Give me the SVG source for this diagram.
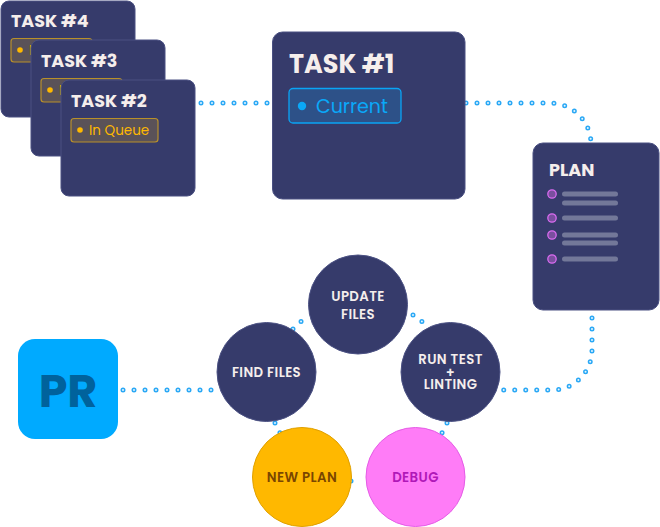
<svg xmlns="http://www.w3.org/2000/svg" width="660" height="527" viewBox="0 0 660 527">
<style>
.card{fill:#363b6b;stroke:#4a5082;stroke-width:1}
.title{font-family:Poppins,Inter,'Liberation Sans',sans-serif;font-weight:700;fill:#f5eeec}
.qbadge{fill:#5a5258;stroke:#b8902a;stroke-width:1.2}
.qtext{font-family:Poppins,Inter,'Liberation Sans',sans-serif;font-size:13.5px;fill:#ffb800}
.navy{fill:#363b6b;stroke:#4c5284;stroke-width:1}
.ctext{font-family:Poppins,Inter,'Liberation Sans',sans-serif;font-weight:600;font-size:13.3px;fill:#f5eeec;text-anchor:middle;letter-spacing:0.4px}
.dotA{fill:none;stroke:#2aa8f5;stroke-width:5;stroke-linecap:round;stroke-dasharray:0 11}
.dotB{fill:none;stroke:#e6f6ff;stroke-width:2;stroke-linecap:round;stroke-dasharray:0 11}
.bullet{fill:#7a4f9f;stroke:#d96bf0;stroke-width:1.3}
.line{fill:#737899}
</style>
<g id="connectors">
  <g id="c-task2-task1"><path class="dotA" d="M201,103 H272"/><path class="dotB" d="M201,103 H272"/></g>
  <g id="c-task1-plan"><path class="dotA" d="M466,103 H550 A41,41 0 0 1 591,144"/><path class="dotB" d="M466,103 H550 A41,41 0 0 1 591,144"/></g>
  <g id="c-plan-run"><path class="dotA" d="M592,318 V350 A40,40 0 0 1 552,390 H496"/><path class="dotB" d="M592,318 V350 A40,40 0 0 1 552,390 H496"/></g>
  <g id="c-update-run"><path class="dotA" d="M413,315 L424,323"/><path class="dotB" d="M413,315 L424,323"/></g>
  <g id="c-find-update"><path class="dotA" d="M293,329 L308,315"/><path class="dotB" d="M293,329 L308,315"/></g>
  <g id="c-pr-find"><path class="dotA" d="M123,390 H215"/><path class="dotB" d="M123,390 H215"/></g>
  <g id="c-find-newplan"><path class="dotA" d="M275,423 L280,433"/><path class="dotB" d="M275,423 L280,433"/></g>
  <g id="c-run-debug"><path class="dotA" d="M447,423 L442,433"/><path class="dotB" d="M447,423 L442,433"/></g>
  <g id="c-newplan-debug"><path class="dotA" d="M351,481 H362"/><path class="dotB" d="M351,481 H362"/></g>
</g>
<g id="task4">
  <rect class="card" x="1" y="1" width="134" height="116" rx="8"/>
  <text class="title" x="11" y="27" font-size="17.5">TASK #4</text>
  <rect class="qbadge" x="11" y="38.5" width="81" height="23.5" rx="3"/>
  <circle cx="20" cy="50" r="2.8" fill="#ffb800"/>
  <text class="qtext" x="29" y="55">In</text>
</g>
<g id="task3">
  <rect class="card" x="31" y="40" width="134" height="116" rx="8"/>
  <text class="title" x="41" y="67" font-size="17.5">TASK #3</text>
  <rect class="qbadge" x="41" y="78.5" width="81" height="23.5" rx="3"/>
  <circle cx="50" cy="90" r="2.8" fill="#ffb800"/>
  <text class="qtext" x="59" y="95">In</text>
</g>
<g id="task2">
  <rect class="card" x="61" y="80" width="134" height="116" rx="8"/>
  <text class="title" x="71" y="107" font-size="17.5">TASK #2</text>
  <rect class="qbadge" x="71" y="118.5" width="87" height="23.5" rx="3"/>
  <circle cx="80" cy="130" r="2.8" fill="#ffb800"/>
  <text class="qtext" x="89" y="135">In Queue</text>
</g>
<g id="task1">
  <rect class="card" x="272.5" y="32" width="192.5" height="167" rx="10"/>
  <text class="title" x="289" y="73" font-size="25.5">TASK #1</text>
  <rect x="289" y="88.5" width="112" height="34.5" rx="4" fill="#2d5188" stroke="#0aa4f5" stroke-width="1.3"/>
  <circle cx="302" cy="106" r="4.2" fill="#0aa8f8"/>
  <text x="316" y="113" font-family="Poppins,Inter,'Liberation Sans',sans-serif" font-size="19" fill="#0aa8f8">Current</text>
</g>
<g id="plan">
  <rect class="card" x="533" y="143" width="126" height="167" rx="10"/>
  <text class="title" x="549" y="176" font-size="17.5">PLAN</text>
  <circle class="bullet" cx="552" cy="194" r="4.2"/>
  <rect class="line" x="562" y="191.5" width="56" height="5" rx="2.5"/>
  <rect class="line" x="562" y="200.5" width="56" height="5" rx="2.5"/>
  <circle class="bullet" cx="552" cy="218" r="4.2"/>
  <rect class="line" x="562" y="215.5" width="56" height="5" rx="2.5"/>
  <circle class="bullet" cx="552" cy="235" r="4.2"/>
  <rect class="line" x="562" y="232.5" width="56" height="5" rx="2.5"/>
  <rect class="line" x="562" y="240.5" width="56" height="5" rx="2.5"/>
  <circle class="bullet" cx="552" cy="259" r="4.2"/>
  <rect class="line" x="562" y="256.5" width="56" height="5" rx="2.5"/>
</g>
<g id="update-files">
  <circle class="navy" cx="358" cy="304.5" r="49.5"/>
  <text class="ctext"><tspan x="358" y="301">UPDATE</tspan><tspan x="358" y="319">FILES</tspan></text>
</g>
<g id="find-files">
  <circle class="navy" cx="266.5" cy="372" r="49.5"/>
  <text class="ctext" x="266.5" y="377">FIND FILES</text>
</g>
<g id="run-test">
  <circle class="navy" cx="450.5" cy="372" r="49.5"/>
  <text class="ctext"><tspan x="450.5" y="364">RUN TEST</tspan><tspan x="450.5" y="377">+</tspan><tspan x="450.5" y="389">LINTING</tspan></text>
</g>
<g id="new-plan">
  <circle cx="302" cy="477" r="49.5" fill="#ffb800" stroke="#e0a000" stroke-width="1"/>
  <text class="ctext" x="302" y="482" style="fill:#7a4600">NEW PLAN</text>
</g>
<g id="debug">
  <circle cx="415.5" cy="477" r="49.5" fill="#ff7cf7" stroke="#e55ce6" stroke-width="1"/>
  <text class="ctext" x="415.5" y="482" style="fill:#b018b8">DEBUG</text>
</g>
<g id="pr">
  <rect x="18" y="339" width="100" height="100" rx="17" fill="#00aaff"/>
  <text x="68" y="407" text-anchor="middle" font-family="Poppins,Inter,'Liberation Sans',sans-serif" font-weight="700" font-size="46" fill="#00629c">PR</text>
</g>
</svg>
